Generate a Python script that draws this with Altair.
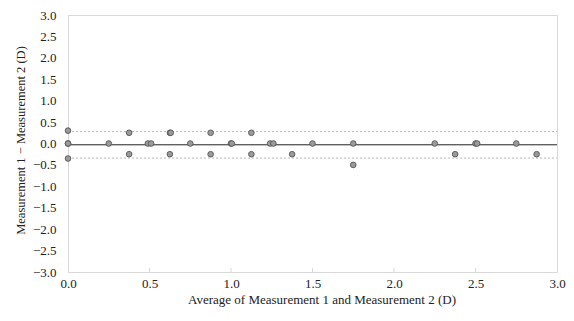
import altair as alt
import pandas as pd

# Bland-Altman data
avg = [0.0, 0.0, 0.0, 0.0, 0.25, 0.375, 0.375, 0.49, 0.51, 0.625, 0.63, 0.625,
       0.75, 0.875, 0.875, 1.0, 1.005, 1.125, 1.125, 1.24, 1.26, 1.375, 1.5,
       1.75, 1.75, 2.25, 2.375, 2.5, 2.51, 2.75, 2.875]
diff = [0.3, 0.0, 0.0, -0.35, 0.0, 0.25, -0.25, 0.0, 0.0, 0.25, 0.25, -0.25,
        0.0, 0.25, -0.25, 0.0, 0.0, 0.25, -0.25, 0.0, 0.0, -0.25, 0.0,
        0.0, -0.5, 0.0, -0.25, 0.0, 0.0, 0.0, -0.25]
mean_diff = [-0.03]
limits = [0.28, -0.34]
x_ticks = [0.0, 0.5, 1.0, 1.5, 2.0, 2.5, 3.0]
y_ticks = [-3.0, -2.5, -2.0, -1.5, -1.0, -0.5, 0.0, 0.5, 1.0, 1.5, 2.0, 2.5, 3.0]

W, H = 489, 257
FONT = "Liberation Serif"

pts = pd.DataFrame({"avg": avg, "diff": diff})
mean_df = pd.DataFrame({"y": mean_diff})
lim_df = pd.DataFrame({"y": limits})
tick_df = pd.DataFrame({"x": x_ticks[1:-1]})

xscale = alt.Scale(domain=[0, 3], nice=False)
yscale = alt.Scale(domain=[-3, 3], nice=False)

xaxis = alt.Axis(values=x_ticks, format=".1f", grid=False, ticks=False, tickSize=0,
                 labelOverlap=False, labelFlush=False,
                 domainColor="#d9d9d9", labelFont=FONT, labelFontSize=13, labelColor="#222",
                 labelPadding=5, title="Average of Measurement 1 and Measurement 2 (D)",
                 titleFont=FONT, titleFontSize=13, titleFontWeight="normal", titleColor="#222",
                 titleX=W / 2 + 9, titleY=27, titleBaseline="middle", titleAlign="center")
yaxis = alt.Axis(values=y_ticks, format=".1f", grid=False, ticks=False, tickSize=0,
                 labelOverlap=False, labelFlush=False,
                 domainColor="#d9d9d9", labelFont=FONT, labelFontSize=13, labelColor="#222",
                 labelPadding=12, title="Measurement 1 \u2212 Measurement 2 (D)",
                 titleFont=FONT, titleFontSize=12.5, titleFontWeight="normal", titleColor="#222",
                 titleX=-48, titleY=125, titleAngle=270, titleBaseline="middle", titleAlign="center")


def yenc(field):
    return alt.Y(field, scale=yscale, axis=yaxis)


lim = alt.Chart(lim_df).mark_rule(color="#bbbbbb", strokeWidth=1, strokeDash=[2, 2]).encode(
    y=yenc("y:Q"), x=alt.value(0), x2=alt.value(W))
mean = alt.Chart(mean_df).mark_rule(color="#222222", strokeWidth=1).encode(
    y=yenc("y:Q"), x=alt.value(0), x2=alt.value(W))
ticks = alt.Chart(tick_df).mark_rule(color="#d9d9d9", strokeWidth=1).encode(
    x=alt.X("x:Q", scale=xscale, axis=xaxis), y=alt.value(H), y2=alt.value(H - 4))
points = alt.Chart(pts).mark_point(filled=True, fill="#9a9a9a", stroke="#555555",
                                    strokeWidth=0.9, size=32, opacity=1).encode(
    x=alt.X("avg:Q", scale=xscale, axis=xaxis),
    y=yenc("diff:Q"))

chart = alt.layer(lim, mean, ticks, points).properties(
    width=W, height=H,
    autosize=alt.AutoSizeParams(type="none"),
    padding={"left": 60, "top": 7, "right": 9, "bottom": 37},
    background="white",
).configure_view(stroke="#d9d9d9", strokeWidth=1).configure_axis(labelOverlap=False)

chart.save("out.html", embed_options={"renderer": "svg", "actions": False})
